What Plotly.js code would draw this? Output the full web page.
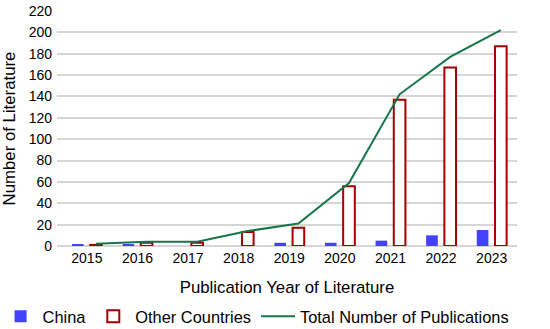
<!DOCTYPE html>
<html><head><meta charset="utf-8">
<script src="https://cdn.plot.ly/plotly-3.0.1.min.js"></script>
<style>html,body{margin:0;padding:0;background:#fff}#chart{width:550px;height:329px}</style>
</head><body><div id="chart"></div>
<script>
const years = [2015, 2016, 2017, 2018, 2019, 2020, 2021, 2022, 2023];
const china = [1, 1, 0, 0, 3, 3, 5, 10, 15];
const otherCountries = [1, 3, 3, 13, 17, 56, 137, 167, 187];
const totalPublications = [2, 4, 4, 14, 21, 59, 142, 177, 202];

const font = {family: 'Liberation Sans, Arial, sans-serif', color: '#000'};
const lineShift = 0.18; // line drawn over the "Other Countries" bar of each year
const traces = [
  {type: 'bar', name: 'China', x: years, y: china, width: 0.23, offset: -0.295,
   marker: {color: '#4141FF', line: {width: 0}}},
  {type: 'bar', name: 'Other Countries', x: years, y: otherCountries, width: 0.23, offset: 0.065,
   marker: {color: '#FFFFFF', line: {color: '#A50000', width: 2}}},
  {type: 'scatter', mode: 'lines', name: 'Total Number of Publications',
   x: years.map(v => v + lineShift), y: totalPublications,
   line: {color: '#17754A', width: 2}}
];
const layout = {
  width: 550, height: 329,
  margin: {l: 57, r: 33, t: 11, b: 83, autoexpand: false},
  paper_bgcolor: '#fff', plot_bgcolor: '#fff',
  font: Object.assign({size: 14}, font),
  barmode: 'overlay',
  showlegend: true,
  xaxis: {type: 'linear', range: [2014.41, 2023.5], tickmode: 'array', tickvals: years, ticktext: years.map(String),
    showgrid: false, zeroline: false, showline: false, ticks: '', automargin: false, ticklabelstandoff: 2,
    tickfont: {size: 14}, title: {text: 'Publication Year of Literature', font: {size: 16.8}, standoff: 16}},
  yaxis: {range: [0, 220], dtick: 20, showgrid: true, gridcolor: '#D6D6D6', gridwidth: 2,
    zeroline: true, zerolinecolor: '#D6D6D6', zerolinewidth: 2, showline: false, ticks: '',
    ticklabelstandoff: 4,
    tickfont: {size: 14}, title: {text: 'Number of Literature', font: {size: 16.8}, standoff: 8}},
  legend: {orientation: 'h', x: -0.127, y: -0.2255, xanchor: 'left', yanchor: 'top',
    font: {size: 16.4}, traceorder: 'normal', itemwidth: 34}
};
Plotly.newPlot('chart', traces, layout, {displayModeBar: false});
</script></body></html>
